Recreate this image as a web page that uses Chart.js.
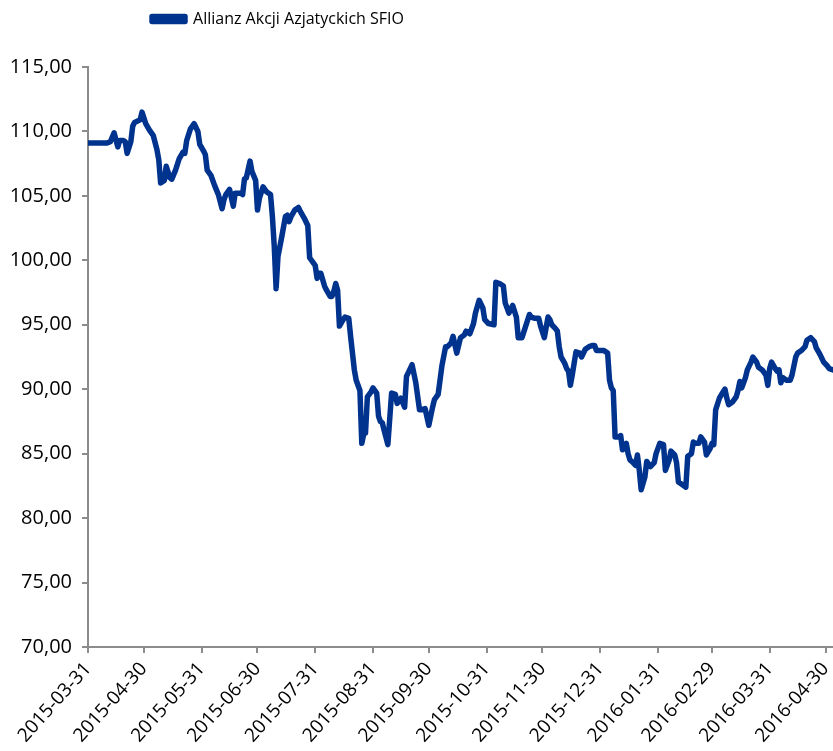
<!DOCTYPE html>
<html>
<head>
<meta charset="utf-8">
<title>Allianz Akcji Azjatyckich SFIO</title>
<script src="https://cdn.jsdelivr.net/npm/chart.js@4.4.1/dist/chart.umd.min.js"></script>
<style>
  html, body { margin: 0; padding: 0; background: #fff; }
  #wrap { width: 833px; height: 751px; }
</style>
</head>
<body>
<div id="wrap"><canvas id="chart" width="833" height="751"></canvas></div>
<script>
const seriesName = 'Allianz Akcji Azjatyckich SFIO';
const startDate = '2015-03-31';

// days since 2015-03-31
const dayNumbers = [
  0, 10, 12, 14, 16, 17, 19, 20, 21, 23, 24, 25, 28, 29, 31, 33, 35, 37, 38, 39,
  41, 42, 44, 45, 47, 49, 51, 52, 53, 55, 57, 59, 60, 62, 63, 64, 66, 68, 70, 72,
  73, 74, 76, 78, 79, 82, 83, 84, 85, 87, 88, 90, 91, 92, 94, 96, 98, 99, 100, 101,
  102, 104, 106, 107, 108, 109, 111, 113, 114, 116, 118, 119, 121, 122, 123, 124, 125, 127, 128, 130,
  131, 132, 133, 134, 135, 137, 138, 140, 141, 142, 143, 144, 146, 147, 148, 149, 150, 152, 153, 155,
  156, 157, 158, 159, 161, 163, 165, 166, 168, 170, 171, 173, 174, 176, 178, 179, 181, 183, 185, 186,
  188, 190, 192, 193, 195, 196, 198, 200, 202, 203, 205, 207, 208, 210, 212, 213, 215, 218, 219, 221,
  223, 224, 226, 228, 230, 231, 233, 235, 237, 238, 240, 242, 243, 245, 247, 248, 249, 251, 252, 253,
  254, 256, 257, 258, 259, 260, 262, 264, 265, 267, 269, 271, 272, 273, 275, 277, 279, 280, 281, 282,
  283, 285, 286, 287, 289, 290, 291, 292, 294, 295, 296, 297, 299, 300, 302, 304, 305, 307, 309, 310,
  312, 313, 315, 316, 317, 319, 321, 322, 324, 325, 326, 328, 329, 331, 332, 334, 335, 336, 337, 339,
  341, 342, 343, 344, 346, 348, 349, 350, 351, 353, 354, 356, 357, 359, 360, 362, 364, 365, 366, 367,
  369, 370, 371, 372, 373, 375, 377, 378, 380, 381, 383, 385, 386, 388, 390, 391, 393, 395, 397, 398,
  400
];

const fundValues = [
  109.1, 109.1, 109.2, 109.9, 108.8, 109.3, 109.3, 109.2, 108.3, 109.2, 110.4, 110.7, 110.9, 111.5, 110.6, 110.1, 109.7, 108.6, 107.8, 106.0,
  106.2, 107.3, 106.4, 106.3, 107.0, 107.9, 108.4, 108.3, 109.3, 110.2, 110.6, 110.0, 109.0, 108.5, 108.2, 107.0, 106.6, 105.8, 105.1, 104.0,
  104.7, 105.1, 105.5, 104.2, 105.2, 105.2, 105.1, 106.3, 106.4, 107.7, 106.9, 106.2, 103.9, 104.8, 105.7, 105.3, 105.1, 103.4, 101.1, 97.8,
  100.3, 101.8, 103.4, 103.5, 103.0, 103.4, 103.9, 104.1, 103.8, 103.3, 102.7, 100.2, 99.8, 99.6, 98.6, 99.0, 99.0, 98.0, 97.7, 97.2,
  97.2, 97.6, 98.2, 97.7, 94.9, 95.4, 95.6, 95.5, 94.1, 92.8, 91.5, 90.7, 89.9, 85.8, 86.5, 86.6, 89.4, 89.8, 90.1, 89.7,
  87.9, 87.5, 87.4, 86.8, 85.7, 89.7, 89.6, 88.9, 89.3, 88.6, 91.0, 91.6, 91.9, 90.5, 88.4, 88.4, 88.5, 87.2, 88.6, 89.2,
  89.6, 91.8, 93.3, 93.3, 93.6, 94.1, 92.8, 94.0, 94.2, 94.5, 94.3, 95.1, 95.9, 96.9, 96.3, 95.4, 95.1, 95.0, 98.3, 98.2,
  98.0, 96.7, 95.9, 96.5, 95.6, 94.0, 94.0, 94.9, 95.8, 95.6, 95.5, 95.5, 94.9, 94.0, 95.6, 95.4, 95.0, 94.7, 94.5, 93.3,
  92.5, 92.0, 91.6, 91.4, 90.3, 91.1, 92.9, 92.8, 92.5, 93.1, 93.3, 93.4, 93.4, 93.0, 93.0, 93.0, 92.8, 90.7, 90.1, 89.9,
  86.3, 86.3, 86.4, 85.3, 85.8, 85.0, 84.5, 84.4, 84.1, 84.9, 83.7, 82.2, 83.2, 84.4, 84.0, 84.3, 85.0, 85.8, 85.7, 83.7,
  84.5, 85.2, 84.9, 84.3, 82.8, 82.6, 82.4, 84.8, 85.0, 85.9, 85.8, 85.8, 86.3, 85.9, 84.9, 85.4, 85.8, 85.7, 88.4, 89.3,
  89.8, 90.0, 89.3, 88.8, 89.0, 89.4, 89.9, 90.6, 90.1, 90.9, 91.5, 92.1, 92.5, 92.1, 91.7, 91.5, 91.1, 90.3, 91.6, 92.1,
  91.6, 91.4, 91.5, 90.5, 90.9, 90.7, 90.7, 91.1, 92.5, 92.8, 93.0, 93.3, 93.8, 94.0, 93.7, 93.2, 92.7, 92.1, 91.8, 91.6,
  91.5
];

const tickLabels = [
  '2015-03-31', '2015-04-30', '2015-05-31', '2015-06-30', '2015-07-31', '2015-08-31', '2015-09-30',
  '2015-10-31', '2015-11-30', '2015-12-31', '2016-01-31', '2016-02-29', '2016-03-31', '2016-04-30'
];

const DAY = 86400000;
const tickDays = tickLabels.map(t => (Date.parse(t) - Date.parse(startDate)) / DAY);
const points = dayNumbers.map((d, i) => ({ x: d, y: fundValues[i] }));

const lineColor = '#00338d';
const axisColor = '#8c8c8c';
const textFont = "'Open Sans', 'Noto Sans', sans-serif";
const topGap = 33;

// legend sits left of centre and higher than the plot gap
const legendShift = {
  id: 'legendShift',
  afterLayout(chart) {
    const lg = chart.legend;
    lg.left = 0;
    lg.right = 556;
    lg.top -= 30;
    lg.bottom -= 30;
  }
};

new Chart(document.getElementById('chart'), {
  type: 'line',
  data: {
    datasets: [{
      label: seriesName,
      data: points,
      borderColor: lineColor,
      backgroundColor: lineColor,
      borderWidth: 5.5,
      pointRadius: 0,
      tension: 0,
      borderJoinStyle: 'round',
      borderCapStyle: 'round'
    }]
  },
  options: {
    responsive: false,
    animation: false,
    layout: { padding: { top: topGap, right: 0, bottom: 0, left: 0 } },
    plugins: {
      legend: {
        position: 'top',
        labels: {
          boxWidth: 33,
          boxHeight: 5,
          color: '#000',
          padding: 8,
          font: { family: textFont, size: 16 }
        }
      },
      tooltip: { enabled: false }
    },
    scales: {
      x: {
        type: 'linear',
        min: 0,
        max: 400,
        afterBuildTicks: s => { s.ticks = tickDays.map(v => ({ value: v })); },
        afterFit: s => { s.height = 104; s.paddingRight = 0; },
        ticks: {
          autoSkip: false,
          minRotation: 48,
          maxRotation: 48,
          padding: 5,
          color: '#000',
          font: { family: textFont, size: 19 },
          callback: (v, i) => tickLabels[i]
        },
        grid: { drawOnChartArea: false, tickLength: 6, color: axisColor, lineWidth: 2 },
        border: { color: axisColor, width: 2 }
      },
      y: {
        min: 70,
        max: 115,
        afterFit: s => { s.width = 88; },
        ticks: {
          stepSize: 5,
          padding: 10,
          color: '#000',
          font: { family: textFont, size: 20 },
          callback: v => v.toFixed(2).replace('.', ',')
        },
        grid: { drawOnChartArea: false, tickLength: 6, color: axisColor, lineWidth: 2 },
        border: { color: axisColor, width: 2 }
      }
    }
  },
  plugins: [legendShift]
});
</script>
</body>
</html>
